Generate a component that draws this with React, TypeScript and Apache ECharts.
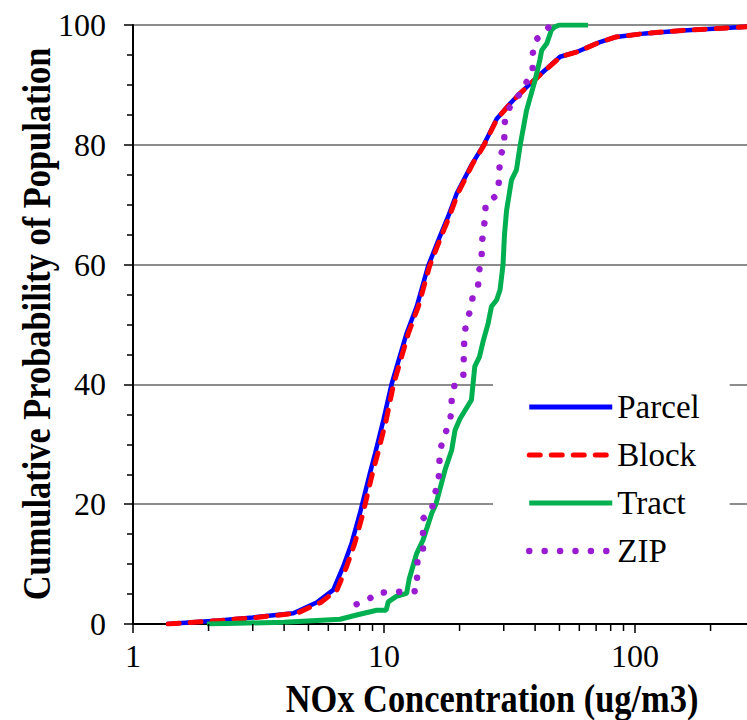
import React, { useEffect, useRef } from "react";
import * as echarts from "echarts";

const FONT = "Liberation Serif";

const seriesNames = ["Parcel", "Block", "Tract", "ZIP"];

const parcelX = [1.36, 2.2, 3.0, 4.35, 5.39, 6.28, 6.88, 7.43, 8.02, 8.79, 9.22, 9.94, 10.7, 12.3, 13.5, 15.0, 16.7, 18.0, 19.5, 22.5, 24.9, 28.1, 31.8, 34.8, 41.8, 50.3, 58.6, 72, 84, 110, 155, 280, 400];
const parcelY = [0, 0.6, 1.1, 1.8, 3.6, 5.7, 9.6, 13.5, 18.5, 25.2, 28.5, 34, 39.9, 48.5, 53, 59.8, 64.7, 68, 71.9, 76.9, 79.9, 84.3, 86.9, 88.6, 91.7, 94.7, 95.5, 97.1, 98, 98.6, 99.1, 99.7, 100];

const blockX = [1.38, 2.25, 3.1, 4.5, 5.6, 6.5, 7.1, 7.65, 8.25, 9.0, 9.45, 10.2, 10.9, 12.5, 13.7, 15.2, 16.9, 18.2, 19.7, 22.6, 25.0, 28.2, 31.9, 34.9, 42, 50.5, 58.8, 72, 84, 110, 155, 280, 400];
const blockY = [0, 0.6, 1.1, 1.8, 3.6, 5.7, 9.6, 13.5, 18.5, 25.2, 28.5, 34, 39.9, 48.5, 53, 59.8, 64.7, 68, 71.9, 76.9, 79.9, 84.3, 86.9, 88.6, 91.7, 94.7, 95.5, 97.1, 98, 98.6, 99.1, 99.7, 100];

const tractX = [1.97, 4, 6.68, 7.78, 9.35, 10.2, 10.4, 11.2, 12.3, 12.6, 13.5, 14.3, 15.5, 16.1, 17.5, 18.6, 19.2, 20.1, 22.3, 23, 24, 24.9, 26, 26.8, 28.1, 29, 29.8, 30.2, 30.8, 32.2, 33.7, 34.8, 37, 40, 41.8, 42.5, 44.5, 46.5, 47.9, 50, 65];
const tractY = [0, 0.3, 0.8, 1.5, 2.3, 2.3, 3.7, 4.6, 5.1, 7.5, 11.8, 14, 18.5, 20, 25.7, 29, 32.4, 34.3, 37.4, 43, 44.6, 47.4, 50.2, 53, 54.1, 55.8, 60, 65, 69.1, 74.1, 75.8, 79.7, 85.8, 90.8, 94.2, 95.8, 96.9, 99.2, 99.7, 100, 100];

const zipX = [7.78, 8.65, 9.27, 13.5, 13.6, 14.3, 14.3, 15.5, 15.8, 16.5, 16.7, 17.3, 18.2, 18.6, 18.6, 19.2, 20.7, 20.9, 21.5, 22.2, 22.6, 23.7, 23.9, 24.5, 24.5, 25.3, 25.4, 27.6, 28.6, 29.0, 30.1, 30.2, 30.4, 32.2, 34.5, 37, 39.1, 39.1, 40, 44.3, 46];
const zipY = [3.3, 4, 5.2, 5.5, 11, 12.5, 17.6, 18.9, 21.2, 23.8, 28.8, 31.3, 33.4, 35.6, 38.1, 40.2, 41.3, 48.5, 50.9, 52.7, 54.8, 56.4, 58.9, 60.9, 63.4, 67.9, 70.3, 71.3, 73, 78, 79.8, 82.5, 84.8, 86.8, 88.3, 90.5, 92.5, 95.1, 97.4, 99.1, 100];

const xMinorTicks = [2, 3, 4, 5, 6, 7, 8, 9, 20, 30, 40, 50, 60, 70, 80, 90, 200, 300, 400, 500, 600, 700, 800, 900];

const zip2 = (xs: number[], ys: number[]) => xs.map((x, i) => [x, ys[i]]);

export default function App() {
  const ref = useRef<HTMLDivElement>(null);
  useEffect(() => {
    if (!ref.current) return;
    const chart = echarts.init(ref.current, null, { renderer: "svg" });
    const option: any = {
      animation: false,
      backgroundColor: "#fff",
      grid: { left: 133, top: 25, right: -139, bottom: 96, containLabel: false, outerBoundsMode: "none" },
      xAxis: [
        {
          type: "log",
          logBase: 10,
          min: 1,
          max: 1000,
          axisLine: { show: true, onZero: false, lineStyle: { color: "#000", width: 2 } },
          axisTick: { show: true, length: 9, lineStyle: { color: "#000", width: 1.5 } },
          axisLabel: {
            fontFamily: FONT,
            fontSize: 32,
            color: "#000",
            margin: 16,
            formatter: (v: number) => (v >= 1000 ? "" : String(v)),
          },
          splitLine: { show: false },
        },
        {
          type: "log",
          logBase: 10,
          min: 1,
          max: 1000,
          position: "top",
          axisLine: { show: true, lineStyle: { color: "#000", width: 2 } },
          axisTick: { show: false },
          axisLabel: { show: false },
          splitLine: { show: false },
        },
      ],
      yAxis: {
        type: "value",
        min: 0,
        max: 100,
        interval: 20,
        axisLine: { show: true, lineStyle: { color: "#000", width: 2 } },
        axisTick: { show: true, length: 9, lineStyle: { color: "#000", width: 1.5 } },
        minorTick: { show: true, splitNumber: 4, length: 6, lineStyle: { color: "#000", width: 1.5 } },
        axisLabel: { fontFamily: FONT, fontSize: 32, color: "#000", margin: 27 },
        splitLine: { show: true, lineStyle: { color: "#8c8c8c", width: 2 } },
      },
      legend: {
        data: [
          { name: seriesNames[0] },
          { name: seriesNames[1] },
          { name: seriesNames[2] },
          { name: seriesNames[3], lineStyle: { width: 6.5 } },
        ],
        orient: "vertical",
        left: 493,
        top: 370,
        padding: [20, 30, 20, 33],
        itemWidth: 83,
        itemHeight: 12,
        itemGap: 14,
        backgroundColor: "#fff",
        itemStyle: { opacity: 0, borderWidth: 0 },
        lineStyle: { width: 5 },
        textStyle: { fontFamily: FONT, fontSize: 33, color: "#000", lineHeight: 34 },
      },
      graphic: [
        {
          type: "text",
          x: 492,
          y: 699,
          scaleX: 0.86,
          style: {
            text: "NOx Concentration (ug/m3)",
            fontFamily: FONT,
            fontWeight: "bold",
            fontSize: 40,
            fill: "#000",
            textAlign: "center",
            textVerticalAlign: "middle",
          },
        },
        {
          type: "text",
          x: 37,
          y: 324,
          rotation: Math.PI / 2,
          scaleX: 0.86,
          style: {
            text: "Cumulative Probability of Population",
            fontFamily: FONT,
            fontWeight: "bold",
            fontSize: 40,
            fill: "#000",
            textAlign: "center",
            textVerticalAlign: "middle",
          },
        },
      ],
      series: [
        {
          name: "Parcel",
          type: "line",
          data: zip2(parcelX, parcelY),
          symbol: "none",
          lineStyle: { color: "#0000ff", width: 4.5 },
          itemStyle: { color: "#0000ff" },
          silent: true,
        },
        {
          name: "Block",
          type: "line",
          data: zip2(blockX, blockY),
          symbol: "none",
          lineStyle: { color: "#ff0000", width: 5, type: [11, 11], cap: "round" },
          itemStyle: { color: "#ff0000" },
          silent: true,
        },
        {
          name: "Tract",
          type: "line",
          data: zip2(tractX, tractY),
          symbol: "none",
          lineStyle: { color: "#00b050", width: 5 },
          itemStyle: { color: "#00b050" },
          silent: true,
        },
        {
          name: "ZIP",
          type: "line",
          data: zip2(zipX, zipY),
          symbol: "none",
          lineStyle: { color: "#9a1cd2", width: 6.5, type: [0.01, 15.4], cap: "round" },
          itemStyle: { color: "#9a1cd2" },
          silent: true,
        },
        {
          name: "minorTicks",
          type: "custom",
          coordinateSystem: "cartesian2d",
          data: xMinorTicks.map((v) => [v, 0]),
          clip: false,
          silent: true,
          z: 5,
          renderItem: (_params: any, api: any) => {
            const p = api.coord([api.value(0), 0]);
            return {
              type: "line",
              shape: { x1: p[0], y1: p[1], x2: p[0], y2: p[1] + 7 },
              style: { stroke: "#000", lineWidth: 1.5 },
            };
          },
        },
      ],
    };
    chart.setOption(option);
    return () => chart.dispose();
  }, []);
  return (
    <div
      style={{ position: "fixed", left: 0, top: 0, width: 747, height: 720, overflow: "hidden", background: "#fff" }}
    >
      <div ref={ref} style={{ width: 747, height: 720 }} />
    </div>
  );
}
